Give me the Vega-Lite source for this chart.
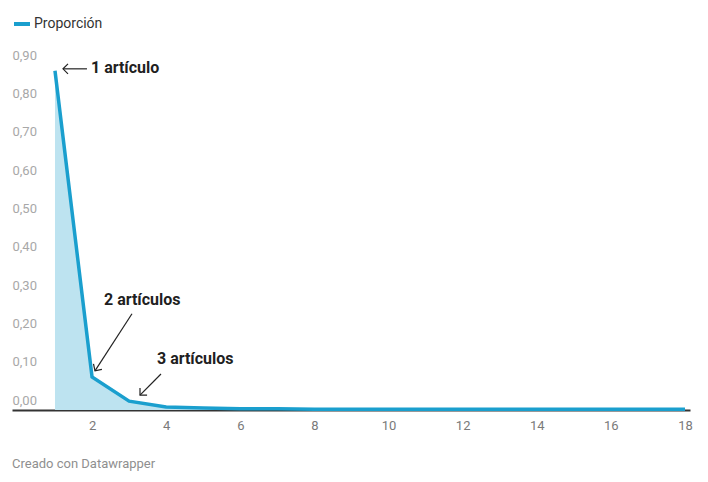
{
  "$schema": "https://vega.github.io/schema/vega-lite/v6.json",
  "autosize": {"type": "none"},
  "width": 678,
  "height": 345,
  "padding": {"left": 12, "top": 65, "right": 18, "bottom": 72},
  "background": "white",
  "config": {
    "font": "Roboto",
    "view": {"stroke": null},
    "title": {"font": "Roboto"},
    "axis": {"labelOverlap": false, "grid": false, "ticks": false, "title": null},
    "axisX": {
      "domainColor": "#333333",
      "domainWidth": 2,
      "labelColor": "#7a7a7a",
      "labelFontSize": 13,
      "labelPadding": 9,
      "labelFlush": false
    },
    "axisY": {
      "domain": false,
      "tickSize": 0,
      "labelAlign": "left",
      "labelBaseline": "middle",
      "labelPadding": 0,
      "labelOffset": -10,
      "labelColor": "#a8a8a8",
      "labelFontSize": 13,
      "labelBound": false,
      "labelOverlap": false,
      "labelSeparation": 0,
      "tickCount": 9,
      "labelExpr": "replace(format(datum.value, '.2f'), '.', ',')"
    }
  },
  "title": {
    "text": "Creado con Datawrapper",
    "orient": "bottom",
    "anchor": "start",
    "fontSize": 13,
    "fontWeight": "normal",
    "color": "#8f8f8f",
    "offset": 26
  },
  "datasets": {
    "serie": [
      {"articulos": 1, "proporcion": 0.885, "serie": "Proporción"},
      {"articulos": 2, "proporcion": 0.086, "serie": "Proporción"},
      {"articulos": 3, "proporcion": 0.023, "serie": "Proporción"},
      {"articulos": 4, "proporcion": 0.008, "serie": "Proporción"},
      {"articulos": 5, "proporcion": 0.005, "serie": "Proporción"},
      {"articulos": 6, "proporcion": 0.003, "serie": "Proporción"},
      {"articulos": 7, "proporcion": 0.003, "serie": "Proporción"},
      {"articulos": 8, "proporcion": 0.002, "serie": "Proporción"},
      {"articulos": 9, "proporcion": 0.002, "serie": "Proporción"},
      {"articulos": 10, "proporcion": 0.002, "serie": "Proporción"},
      {"articulos": 11, "proporcion": 0.002, "serie": "Proporción"},
      {"articulos": 12, "proporcion": 0.002, "serie": "Proporción"},
      {"articulos": 13, "proporcion": 0.002, "serie": "Proporción"},
      {"articulos": 14, "proporcion": 0.002, "serie": "Proporción"},
      {"articulos": 15, "proporcion": 0.002, "serie": "Proporción"},
      {"articulos": 16, "proporcion": 0.002, "serie": "Proporción"},
      {"articulos": 17, "proporcion": 0.002, "serie": "Proporción"},
      {"articulos": 18, "proporcion": 0.002, "serie": "Proporción"}
    ],
    "etiquetas": [
      {"x": 1.971, "y": 0.893, "texto": "1 artículo"},
      {"x": 2.322, "y": 0.287, "texto": "2 artículos"},
      {"x": 3.752, "y": 0.133, "texto": "3 artículos"}
    ],
    "flechas": [
      {"x": 1.863, "y": 0.890, "x2": 1.216, "y2": 0.890, "angulo": 180},
      {"x": 3.078, "y": 0.251, "x2": 2.079, "y2": 0.102, "angulo": 123},
      {"x": 3.860, "y": 0.094, "x2": 3.294, "y2": 0.039, "angulo": 135}
    ]
  },
  "layer": [
    {
      "data": {"name": "serie"},
      "mark": {"type": "area", "color": "#bde3f0"},
      "encoding": {
        "x": {
          "field": "articulos",
          "type": "quantitative",
          "scale": {"domain": [-0.16, 18.135], "nice": false, "zero": false},
          "axis": {"values": [2, 4, 6, 8, 10, 12, 14, 16, 18]}
        },
        "y": {
          "field": "proporcion",
          "type": "quantitative",
          "scale": {"domain": [0, 0.9], "nice": false}
        }
      }
    },
    {
      "data": {"name": "serie"},
      "mark": {"type": "line", "strokeWidth": 3.5, "strokeJoin": "miter"},
      "encoding": {
        "x": {"field": "articulos", "type": "quantitative"},
        "y": {"field": "proporcion", "type": "quantitative"},
        "color": {
          "field": "serie",
          "type": "nominal",
          "scale": {"range": ["#1a9fce"]},
          "legend": {
            "title": null,
            "orient": "none",
            "legendX": 0,
            "legendY": -51,
            "padding": 0,
            "symbolType": "stroke",
            "symbolStrokeWidth": 4,
            "symbolSize": 256,
            "labelFontSize": 14,
            "labelColor": "#333333",
            "labelOffset": 2
          }
        }
      }
    },
    {
      "data": {"name": "flechas"},
      "mark": {"type": "rule", "color": "#222222", "strokeWidth": 1.2},
      "encoding": {
        "x": {"field": "x", "type": "quantitative"},
        "y": {"field": "y", "type": "quantitative"},
        "x2": {"field": "x2"},
        "y2": {"field": "y2"}
      }
    },
    {
      "data": {"name": "flechas"},
      "mark": {
        "type": "point",
        "shape": "M-1,-1L0,0L-1,1",
        "filled": false,
        "size": 100,
        "stroke": "#222222",
        "strokeWidth": 1.2,
        "opacity": 1
      },
      "encoding": {
        "x": {"field": "x2", "type": "quantitative"},
        "y": {"field": "y2", "type": "quantitative"},
        "angle": {"field": "angulo", "type": "quantitative", "scale": null}
      }
    },
    {
      "data": {"name": "etiquetas"},
      "mark": {
        "type": "text",
        "align": "left",
        "baseline": "middle",
        "fontSize": 16,
        "fontWeight": "bold",
        "color": "#1f1f1f"
      },
      "encoding": {
        "x": {"field": "x", "type": "quantitative"},
        "y": {"field": "y", "type": "quantitative"},
        "text": {"field": "texto"}
      }
    }
  ]
}
